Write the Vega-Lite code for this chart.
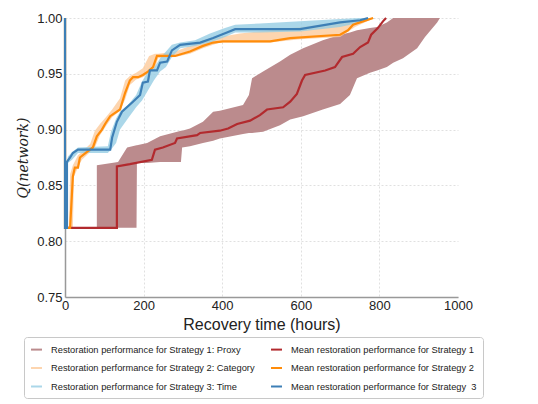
{
  "$schema": "https://vega.github.io/schema/vega-lite/v6.json",
  "width": 393,
  "height": 279,
  "autosize": {"type": "none"},
  "padding": {"left": 65, "top": 18, "right": 80, "bottom": 107},
  "background": "white",
  "config": {
    "view": {"stroke": null},
    "font": "Liberation Sans",
    "axis": {
      "labelFont": "Liberation Sans",
      "labelFontSize": 13,
      "labelColor": "#222",
      "titleFont": "Liberation Sans",
      "titleFontWeight": "normal",
      "titleColor": "#222",
      "ticks": false,
      "labelFlush": false,
      "domainColor": "#999",
      "domainWidth": 1.5,
      "grid": true,
      "gridDash": [2, 2],
      "gridWidth": 0.8
    }
  },
  "datasets": {
    "bands": [
      {"series": "Restoration performance for Strategy 1: Proxy", "x": 81, "lo": 0.812, "hi": 0.868},
      {"series": "Restoration performance for Strategy 1: Proxy", "x": 135, "lo": 0.812, "hi": 0.871},
      {"series": "Restoration performance for Strategy 1: Proxy", "x": 158, "lo": 0.812, "hi": 0.884},
      {"series": "Restoration performance for Strategy 1: Proxy", "x": 182, "lo": 0.812, "hi": 0.886},
      {"series": "Restoration performance for Strategy 1: Proxy", "x": 183, "lo": 0.870, "hi": 0.886},
      {"series": "Restoration performance for Strategy 1: Proxy", "x": 209, "lo": 0.870, "hi": 0.888},
      {"series": "Restoration performance for Strategy 1: Proxy", "x": 242, "lo": 0.871, "hi": 0.894},
      {"series": "Restoration performance for Strategy 1: Proxy", "x": 295, "lo": 0.871, "hi": 0.899},
      {"series": "Restoration performance for Strategy 1: Proxy", "x": 298, "lo": 0.884, "hi": 0.899},
      {"series": "Restoration performance for Strategy 1: Proxy", "x": 318, "lo": 0.885, "hi": 0.901},
      {"series": "Restoration performance for Strategy 1: Proxy", "x": 351, "lo": 0.888, "hi": 0.907},
      {"series": "Restoration performance for Strategy 1: Proxy", "x": 377, "lo": 0.890, "hi": 0.916},
      {"series": "Restoration performance for Strategy 1: Proxy", "x": 394, "lo": 0.892, "hi": 0.917},
      {"series": "Restoration performance for Strategy 1: Proxy", "x": 453, "lo": 0.896, "hi": 0.922},
      {"series": "Restoration performance for Strategy 1: Proxy", "x": 468, "lo": 0.897, "hi": 0.931},
      {"series": "Restoration performance for Strategy 1: Proxy", "x": 476, "lo": 0.897, "hi": 0.946},
      {"series": "Restoration performance for Strategy 1: Proxy", "x": 504, "lo": 0.898, "hi": 0.952},
      {"series": "Restoration performance for Strategy 1: Proxy", "x": 547, "lo": 0.904, "hi": 0.961},
      {"series": "Restoration performance for Strategy 1: Proxy", "x": 573, "lo": 0.909, "hi": 0.967},
      {"series": "Restoration performance for Strategy 1: Proxy", "x": 606, "lo": 0.912, "hi": 0.973},
      {"series": "Restoration performance for Strategy 1: Proxy", "x": 656, "lo": 0.918, "hi": 0.980},
      {"series": "Restoration performance for Strategy 1: Proxy", "x": 700, "lo": 0.923, "hi": 0.985},
      {"series": "Restoration performance for Strategy 1: Proxy", "x": 725, "lo": 0.931, "hi": 0.987},
      {"series": "Restoration performance for Strategy 1: Proxy", "x": 743, "lo": 0.946, "hi": 0.989},
      {"series": "Restoration performance for Strategy 1: Proxy", "x": 776, "lo": 0.951, "hi": 0.991},
      {"series": "Restoration performance for Strategy 1: Proxy", "x": 794, "lo": 0.953, "hi": 0.992},
      {"series": "Restoration performance for Strategy 1: Proxy", "x": 819, "lo": 0.956, "hi": 0.996},
      {"series": "Restoration performance for Strategy 1: Proxy", "x": 835, "lo": 0.960, "hi": 1.0},
      {"series": "Restoration performance for Strategy 1: Proxy", "x": 860, "lo": 0.964, "hi": 1.0},
      {"series": "Restoration performance for Strategy 1: Proxy", "x": 896, "lo": 0.973, "hi": 1.0},
      {"series": "Restoration performance for Strategy 1: Proxy", "x": 916, "lo": 0.983, "hi": 1.0},
      {"series": "Restoration performance for Strategy 1: Proxy", "x": 947, "lo": 0.996, "hi": 1.0},
      {"series": "Restoration performance for Strategy 1: Proxy", "x": 954, "lo": 1.0, "hi": 1.0},

      {"series": "Restoration performance for Strategy 2: Category", "x": 10, "lo": 0.812, "hi": 0.812},
      {"series": "Restoration performance for Strategy 2: Category", "x": 13, "lo": 0.812, "hi": 0.860},
      {"series": "Restoration performance for Strategy 2: Category", "x": 20, "lo": 0.812, "hi": 0.868},
      {"series": "Restoration performance for Strategy 2: Category", "x": 23, "lo": 0.858, "hi": 0.870},
      {"series": "Restoration performance for Strategy 2: Category", "x": 33, "lo": 0.866, "hi": 0.877},
      {"series": "Restoration performance for Strategy 2: Category", "x": 43, "lo": 0.873, "hi": 0.880},
      {"series": "Restoration performance for Strategy 2: Category", "x": 64, "lo": 0.880, "hi": 0.887},
      {"series": "Restoration performance for Strategy 2: Category", "x": 76, "lo": 0.884, "hi": 0.899},
      {"series": "Restoration performance for Strategy 2: Category", "x": 89, "lo": 0.895, "hi": 0.905},
      {"series": "Restoration performance for Strategy 2: Category", "x": 104, "lo": 0.903, "hi": 0.911},
      {"series": "Restoration performance for Strategy 2: Category", "x": 120, "lo": 0.911, "hi": 0.918},
      {"series": "Restoration performance for Strategy 2: Category", "x": 140, "lo": 0.917, "hi": 0.928},
      {"series": "Restoration performance for Strategy 2: Category", "x": 153, "lo": 0.927, "hi": 0.944},
      {"series": "Restoration performance for Strategy 2: Category", "x": 165, "lo": 0.940, "hi": 0.948},
      {"series": "Restoration performance for Strategy 2: Category", "x": 181, "lo": 0.945, "hi": 0.951},
      {"series": "Restoration performance for Strategy 2: Category", "x": 198, "lo": 0.947, "hi": 0.955},
      {"series": "Restoration performance for Strategy 2: Category", "x": 214, "lo": 0.951, "hi": 0.966},
      {"series": "Restoration performance for Strategy 2: Category", "x": 229, "lo": 0.955, "hi": 0.968},
      {"series": "Restoration performance for Strategy 2: Category", "x": 237, "lo": 0.964, "hi": 0.968},
      {"series": "Restoration performance for Strategy 2: Category", "x": 280, "lo": 0.965, "hi": 0.970},
      {"series": "Restoration performance for Strategy 2: Category", "x": 318, "lo": 0.968, "hi": 0.975},
      {"series": "Restoration performance for Strategy 2: Category", "x": 351, "lo": 0.973, "hi": 0.980},
      {"series": "Restoration performance for Strategy 2: Category", "x": 394, "lo": 0.978, "hi": 0.983},
      {"series": "Restoration performance for Strategy 2: Category", "x": 445, "lo": 0.978, "hi": 0.986},
      {"series": "Restoration performance for Strategy 2: Category", "x": 522, "lo": 0.978, "hi": 0.989},
      {"series": "Restoration performance for Strategy 2: Category", "x": 598, "lo": 0.981, "hi": 0.992},
      {"series": "Restoration performance for Strategy 2: Category", "x": 700, "lo": 0.983, "hi": 0.996},
      {"series": "Restoration performance for Strategy 2: Category", "x": 738, "lo": 0.992, "hi": 0.998},
      {"series": "Restoration performance for Strategy 2: Category", "x": 781, "lo": 0.999, "hi": 1.0},

      {"series": "Restoration performance for Strategy 3: Time", "x": 1, "lo": 0.812, "hi": 0.812},
      {"series": "Restoration performance for Strategy 3: Time", "x": 2.5, "lo": 0.812, "hi": 0.870},
      {"series": "Restoration performance for Strategy 3: Time", "x": 6.4, "lo": 0.812, "hi": 0.874},
      {"series": "Restoration performance for Strategy 3: Time", "x": 7.6, "lo": 0.870, "hi": 0.876},
      {"series": "Restoration performance for Strategy 3: Time", "x": 18, "lo": 0.873, "hi": 0.880},
      {"series": "Restoration performance for Strategy 3: Time", "x": 33, "lo": 0.879, "hi": 0.884},
      {"series": "Restoration performance for Strategy 3: Time", "x": 109, "lo": 0.879, "hi": 0.885},
      {"series": "Restoration performance for Strategy 3: Time", "x": 117, "lo": 0.882, "hi": 0.898},
      {"series": "Restoration performance for Strategy 3: Time", "x": 130, "lo": 0.888, "hi": 0.910},
      {"series": "Restoration performance for Strategy 3: Time", "x": 140, "lo": 0.900, "hi": 0.916},
      {"series": "Restoration performance for Strategy 3: Time", "x": 160, "lo": 0.910, "hi": 0.922},
      {"series": "Restoration performance for Strategy 3: Time", "x": 181, "lo": 0.920, "hi": 0.931},
      {"series": "Restoration performance for Strategy 3: Time", "x": 196, "lo": 0.926, "hi": 0.943},
      {"series": "Restoration performance for Strategy 3: Time", "x": 211, "lo": 0.935, "hi": 0.952},
      {"series": "Restoration performance for Strategy 3: Time", "x": 226, "lo": 0.944, "hi": 0.955},
      {"series": "Restoration performance for Strategy 3: Time", "x": 242, "lo": 0.952, "hi": 0.964},
      {"series": "Restoration performance for Strategy 3: Time", "x": 257, "lo": 0.956, "hi": 0.970},
      {"series": "Restoration performance for Strategy 3: Time", "x": 272, "lo": 0.965, "hi": 0.976},
      {"series": "Restoration performance for Strategy 3: Time", "x": 293, "lo": 0.973, "hi": 0.978},
      {"series": "Restoration performance for Strategy 3: Time", "x": 331, "lo": 0.975, "hi": 0.980},
      {"series": "Restoration performance for Strategy 3: Time", "x": 369, "lo": 0.978, "hi": 0.986},
      {"series": "Restoration performance for Strategy 3: Time", "x": 407, "lo": 0.983, "hi": 0.991},
      {"series": "Restoration performance for Strategy 3: Time", "x": 433, "lo": 0.987, "hi": 0.994},
      {"series": "Restoration performance for Strategy 3: Time", "x": 496, "lo": 0.987, "hi": 0.995},
      {"series": "Restoration performance for Strategy 3: Time", "x": 598, "lo": 0.988, "hi": 0.997},
      {"series": "Restoration performance for Strategy 3: Time", "x": 700, "lo": 0.992, "hi": 0.999},
      {"series": "Restoration performance for Strategy 3: Time", "x": 751, "lo": 0.996, "hi": 1.0},
      {"series": "Restoration performance for Strategy 3: Time", "x": 789, "lo": 1.0, "hi": 1.0}
    ],
    "means": [
      {"series": "Mean restoration performance for Strategy 1", "i": 1, "x": 0, "y": 0.812},
      {"series": "Mean restoration performance for Strategy 1", "i": 2, "x": 132, "y": 0.812},
      {"series": "Mean restoration performance for Strategy 1", "i": 3, "x": 132, "y": 0.867},
      {"series": "Mean restoration performance for Strategy 1", "i": 4, "x": 165, "y": 0.869},
      {"series": "Mean restoration performance for Strategy 1", "i": 5, "x": 221, "y": 0.873},
      {"series": "Mean restoration performance for Strategy 1", "i": 6, "x": 229, "y": 0.882},
      {"series": "Mean restoration performance for Strategy 1", "i": 7, "x": 249, "y": 0.884},
      {"series": "Mean restoration performance for Strategy 1", "i": 8, "x": 280, "y": 0.888},
      {"series": "Mean restoration performance for Strategy 1", "i": 9, "x": 285, "y": 0.892},
      {"series": "Mean restoration performance for Strategy 1", "i": 10, "x": 336, "y": 0.895},
      {"series": "Mean restoration performance for Strategy 1", "i": 11, "x": 344, "y": 0.897},
      {"series": "Mean restoration performance for Strategy 1", "i": 12, "x": 394, "y": 0.899},
      {"series": "Mean restoration performance for Strategy 1", "i": 13, "x": 415, "y": 0.901},
      {"series": "Mean restoration performance for Strategy 1", "i": 14, "x": 438, "y": 0.905},
      {"series": "Mean restoration performance for Strategy 1", "i": 15, "x": 471, "y": 0.908},
      {"series": "Mean restoration performance for Strategy 1", "i": 16, "x": 496, "y": 0.913},
      {"series": "Mean restoration performance for Strategy 1", "i": 17, "x": 514, "y": 0.918},
      {"series": "Mean restoration performance for Strategy 1", "i": 18, "x": 555, "y": 0.920},
      {"series": "Mean restoration performance for Strategy 1", "i": 19, "x": 573, "y": 0.925},
      {"series": "Mean restoration performance for Strategy 1", "i": 20, "x": 590, "y": 0.932},
      {"series": "Mean restoration performance for Strategy 1", "i": 21, "x": 603, "y": 0.944},
      {"series": "Mean restoration performance for Strategy 1", "i": 22, "x": 611, "y": 0.949},
      {"series": "Mean restoration performance for Strategy 1", "i": 23, "x": 662, "y": 0.953},
      {"series": "Mean restoration performance for Strategy 1", "i": 24, "x": 687, "y": 0.956},
      {"series": "Mean restoration performance for Strategy 1", "i": 25, "x": 705, "y": 0.965},
      {"series": "Mean restoration performance for Strategy 1", "i": 26, "x": 733, "y": 0.968},
      {"series": "Mean restoration performance for Strategy 1", "i": 27, "x": 751, "y": 0.974},
      {"series": "Mean restoration performance for Strategy 1", "i": 28, "x": 771, "y": 0.978},
      {"series": "Mean restoration performance for Strategy 1", "i": 29, "x": 779, "y": 0.985},
      {"series": "Mean restoration performance for Strategy 1", "i": 30, "x": 796, "y": 0.991},
      {"series": "Mean restoration performance for Strategy 1", "i": 31, "x": 809, "y": 0.997},
      {"series": "Mean restoration performance for Strategy 1", "i": 32, "x": 817, "y": 1.0},

      {"series": "Mean restoration performance for Strategy 2", "i": 1, "x": 0, "y": 1.0},
      {"series": "Mean restoration performance for Strategy 2", "i": 2, "x": 0, "y": 0.812},
      {"series": "Mean restoration performance for Strategy 2", "i": 3, "x": 13, "y": 0.812},
      {"series": "Mean restoration performance for Strategy 2", "i": 4, "x": 20, "y": 0.858},
      {"series": "Mean restoration performance for Strategy 2", "i": 5, "x": 25, "y": 0.866},
      {"series": "Mean restoration performance for Strategy 2", "i": 6, "x": 33, "y": 0.866},
      {"series": "Mean restoration performance for Strategy 2", "i": 7, "x": 38, "y": 0.875},
      {"series": "Mean restoration performance for Strategy 2", "i": 8, "x": 56, "y": 0.880},
      {"series": "Mean restoration performance for Strategy 2", "i": 9, "x": 71, "y": 0.884},
      {"series": "Mean restoration performance for Strategy 2", "i": 10, "x": 81, "y": 0.894},
      {"series": "Mean restoration performance for Strategy 2", "i": 11, "x": 94, "y": 0.900},
      {"series": "Mean restoration performance for Strategy 2", "i": 12, "x": 102, "y": 0.905},
      {"series": "Mean restoration performance for Strategy 2", "i": 13, "x": 115, "y": 0.912},
      {"series": "Mean restoration performance for Strategy 2", "i": 14, "x": 140, "y": 0.918},
      {"series": "Mean restoration performance for Strategy 2", "i": 15, "x": 153, "y": 0.933},
      {"series": "Mean restoration performance for Strategy 2", "i": 16, "x": 165, "y": 0.944},
      {"series": "Mean restoration performance for Strategy 2", "i": 17, "x": 173, "y": 0.947},
      {"series": "Mean restoration performance for Strategy 2", "i": 18, "x": 186, "y": 0.947},
      {"series": "Mean restoration performance for Strategy 2", "i": 19, "x": 198, "y": 0.949},
      {"series": "Mean restoration performance for Strategy 2", "i": 20, "x": 211, "y": 0.952},
      {"series": "Mean restoration performance for Strategy 2", "i": 21, "x": 224, "y": 0.956},
      {"series": "Mean restoration performance for Strategy 2", "i": 22, "x": 234, "y": 0.966},
      {"series": "Mean restoration performance for Strategy 2", "i": 23, "x": 280, "y": 0.966},
      {"series": "Mean restoration performance for Strategy 2", "i": 24, "x": 318, "y": 0.970},
      {"series": "Mean restoration performance for Strategy 2", "i": 25, "x": 351, "y": 0.975},
      {"series": "Mean restoration performance for Strategy 2", "i": 26, "x": 377, "y": 0.978},
      {"series": "Mean restoration performance for Strategy 2", "i": 27, "x": 402, "y": 0.979},
      {"series": "Mean restoration performance for Strategy 2", "i": 28, "x": 522, "y": 0.979},
      {"series": "Mean restoration performance for Strategy 2", "i": 29, "x": 573, "y": 0.982},
      {"series": "Mean restoration performance for Strategy 2", "i": 30, "x": 700, "y": 0.985},
      {"series": "Mean restoration performance for Strategy 2", "i": 31, "x": 720, "y": 0.989},
      {"series": "Mean restoration performance for Strategy 2", "i": 32, "x": 733, "y": 0.994},
      {"series": "Mean restoration performance for Strategy 2", "i": 33, "x": 758, "y": 0.997},
      {"series": "Mean restoration performance for Strategy 2", "i": 34, "x": 784, "y": 1.0},

      {"series": "Mean restoration performance for Strategy\u00a0 3", "i": 1, "x": 0, "y": 1.0},
      {"series": "Mean restoration performance for Strategy\u00a0 3", "i": 2, "x": 0, "y": 0.812},
      {"series": "Mean restoration performance for Strategy\u00a0 3", "i": 3, "x": 5, "y": 0.812},
      {"series": "Mean restoration performance for Strategy\u00a0 3", "i": 4, "x": 5, "y": 0.871},
      {"series": "Mean restoration performance for Strategy\u00a0 3", "i": 5, "x": 13, "y": 0.875},
      {"series": "Mean restoration performance for Strategy\u00a0 3", "i": 6, "x": 20, "y": 0.879},
      {"series": "Mean restoration performance for Strategy\u00a0 3", "i": 7, "x": 33, "y": 0.882},
      {"series": "Mean restoration performance for Strategy\u00a0 3", "i": 8, "x": 115, "y": 0.882},
      {"series": "Mean restoration performance for Strategy\u00a0 3", "i": 9, "x": 120, "y": 0.893},
      {"series": "Mean restoration performance for Strategy\u00a0 3", "i": 10, "x": 132, "y": 0.907},
      {"series": "Mean restoration performance for Strategy\u00a0 3", "i": 11, "x": 145, "y": 0.916},
      {"series": "Mean restoration performance for Strategy\u00a0 3", "i": 12, "x": 173, "y": 0.925},
      {"series": "Mean restoration performance for Strategy\u00a0 3", "i": 13, "x": 191, "y": 0.931},
      {"series": "Mean restoration performance for Strategy\u00a0 3", "i": 14, "x": 198, "y": 0.942},
      {"series": "Mean restoration performance for Strategy\u00a0 3", "i": 15, "x": 211, "y": 0.943},
      {"series": "Mean restoration performance for Strategy\u00a0 3", "i": 16, "x": 216, "y": 0.953},
      {"series": "Mean restoration performance for Strategy\u00a0 3", "i": 17, "x": 234, "y": 0.953},
      {"series": "Mean restoration performance for Strategy\u00a0 3", "i": 18, "x": 242, "y": 0.960},
      {"series": "Mean restoration performance for Strategy\u00a0 3", "i": 19, "x": 260, "y": 0.961},
      {"series": "Mean restoration performance for Strategy\u00a0 3", "i": 20, "x": 272, "y": 0.971},
      {"series": "Mean restoration performance for Strategy\u00a0 3", "i": 21, "x": 293, "y": 0.976},
      {"series": "Mean restoration performance for Strategy\u00a0 3", "i": 22, "x": 344, "y": 0.978},
      {"series": "Mean restoration performance for Strategy\u00a0 3", "i": 23, "x": 377, "y": 0.982},
      {"series": "Mean restoration performance for Strategy\u00a0 3", "i": 24, "x": 412, "y": 0.987},
      {"series": "Mean restoration performance for Strategy\u00a0 3", "i": 25, "x": 433, "y": 0.990},
      {"series": "Mean restoration performance for Strategy\u00a0 3", "i": 26, "x": 598, "y": 0.990},
      {"series": "Mean restoration performance for Strategy\u00a0 3", "i": 27, "x": 700, "y": 0.996},
      {"series": "Mean restoration performance for Strategy\u00a0 3", "i": 28, "x": 751, "y": 0.998},
      {"series": "Mean restoration performance for Strategy\u00a0 3", "i": 29, "x": 771, "y": 1.0}
    ]
  },
  "layer": [
    {
      "data": {"name": "bands"},
      "mark": {"type": "area", "clip": true, "interpolate": "linear"},
      "encoding": {
        "x": {
          "field": "x", "type": "quantitative",
          "scale": {"domain": [0, 1000], "nice": false, "zero": false},
          "axis": {
            "title": "Recovery time (hours)",
            "values": [0, 200, 400, 600, 800, 1000],
            "format": "d",
            "labelFontSize": 13,
            "labelPadding": 2,
            "titleFontSize": 16,
            "titlePadding": 4,
            "gridColor": {"condition": {"test": "datum.value >= 1000", "value": "transparent"}, "value": "#d8d8d8"}
          }
        },
        "y": {
          "field": "lo", "type": "quantitative",
          "scale": {"domain": [0.75, 1.0], "nice": false, "zero": false},
          "axis": {
            "title": "Q(network)",
            "titleFont": "DejaVu Serif",
            "titleFontStyle": "italic",
            "titleFontSize": 14,
            "titlePadding": 6,
            "values": [0.75, 0.8, 0.85, 0.9, 0.95, 1.0],
            "format": ".2f",
            "labelFontSize": 13,
            "labelPadding": 3,
            "gridColor": "#d8d8d8"
          }
        },
        "y2": {"field": "hi"},
        "color": {
          "field": "series", "type": "nominal",
          "scale": {
            "domain": [
              "Restoration performance for Strategy 1: Proxy",
              "Restoration performance for Strategy 2: Category",
              "Restoration performance for Strategy 3: Time",
              "Mean restoration performance for Strategy 1",
              "Mean restoration performance for Strategy 2",
              "Mean restoration performance for Strategy\u00a0 3"
            ],
            "range": ["#bb8b8d", "rgba(253,203,155,0.8)", "rgba(150,205,228,0.8)", "#b22a2e", "#ff8c0a", "#3d7fb6"]
          },
          "legend": {
            "orient": "none",
            "legendX": -41,
            "legendY": 319,
            "columns": 2,
            "title": null,
            "labelFont": "Liberation Sans",
            "labelFontSize": 9.3,
            "labelColor": "#222",
            "symbolType": "stroke",
            "symbolSize": 120,
            "strokeColor": "#c8c8c8",
            "fillColor": "white",
            "cornerRadius": 3,
            "padding": 6,
            "rowPadding": 6.5,
            "columnPadding": 12,
            "labelOffset": 8,
            "labelLimit": 400,
            "encode": {
              "symbols": {
                "update": {
                  "stroke": {"scale": "color", "field": "value"},
                  "strokeWidth": {"value": 2},
                  "fill": {"value": "transparent"}
                }
              }
            }
          }
        }
      }
    },
    {
      "data": {"name": "means"},
      "mark": {"type": "line", "strokeWidth": 2.2, "clip": false},
      "encoding": {
        "x": {"field": "x", "type": "quantitative"},
        "y": {"field": "y", "type": "quantitative"},
        "color": {"field": "series", "type": "nominal"},
        "order": {"field": "i", "type": "quantitative"}
      }
    }
  ]
}
